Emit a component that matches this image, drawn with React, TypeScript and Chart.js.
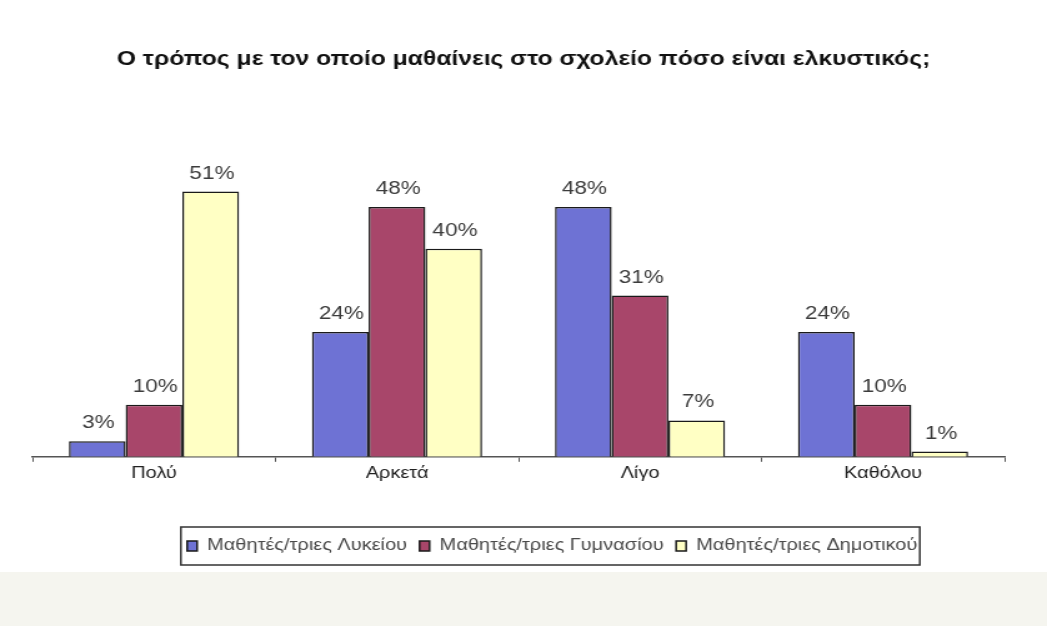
import React, { useEffect, useRef } from "react";
import { Chart, registerables } from "chart.js";

Chart.register(...registerables);

const categories = ["Πολύ", "Αρκετά", "Λίγο", "Καθόλου"];
const seriesNames = ["Μαθητές/τριες Λυκείου", "Μαθητές/τριες Γυμνασίου", "Μαθητές/τριες Δημοτικού"];
const lykeio = [3, 24, 48, 24];
const gymnasio = [10, 48, 31, 10];
const dimotiko = [51, 40, 7, 1];
const colors = ["#6e72d4", "#a8466a", "#ffffc4"];
const titleText = "Ο τρόπος με τον οποίο μαθαίνεις στο σχολείο πόσο είναι ελκυστικός;";

const FONT = "Arial, 'Liberation Sans', sans-serif";
// The reference picture is stretched horizontally; the canvas is drawn narrower and widened by CSS.
const CANVAS_W = 838;
const CANVAS_H = 626;

const valueLabels = {
  id: "valueLabels",
  afterDatasetsDraw(chart: any) {
    const ctx = chart.ctx;
    ctx.save();
    ctx.font = "18px " + FONT;
    ctx.fillStyle = "#3c3c3c";
    ctx.textAlign = "center";
    ctx.textBaseline = "alphabetic";
    chart.data.datasets.forEach((ds: any, i: number) => {
      const meta = chart.getDatasetMeta(i);
      meta.data.forEach((bar: any, j: number) => {
        ctx.fillText(ds.data[j] + "%", bar.x + 1, bar.y - 13);
      });
    });
    ctx.restore();
  },
};

const legendBox = {
  id: "legendBox",
  afterDraw(chart: any) {
    const lg = chart.legend;
    if (!lg || !lg.legendHitBoxes || !lg.legendHitBoxes.length) return;
    let l = Infinity, r = -Infinity, t = Infinity, b = -Infinity;
    lg.legendHitBoxes.forEach((h: any) => {
      l = Math.min(l, h.left);
      r = Math.max(r, h.left + h.width);
      t = Math.min(t, h.top);
      b = Math.max(b, h.top + h.height);
    });
    const ctx = chart.ctx;
    ctx.save();
    ctx.strokeStyle = "#333";
    ctx.lineWidth = 1.5;
    ctx.strokeRect(l - 5, t - 11, r - l + 7, b - t + 22);
    ctx.restore();
  },
};

const shiftBlocks = {
  id: "shiftBlocks",
  afterLayout(chart: any) {
    const lg = chart.legend;
    if (lg) {
      lg.left += 27;
      lg.right += 27;
    }
    const tb = chart.titleBlock;
    if (tb) {
      tb.left += 4;
      tb.right += 4;
    }
  },
};

export default function App() {
  const ref = useRef<HTMLCanvasElement>(null);
  useEffect(() => {
    const chart = new Chart(ref.current!, {
      type: "bar",
      data: {
        labels: categories,
        datasets: [lykeio, gymnasio, dimotiko].map((d, i) => ({
          label: seriesNames[i],
          data: d,
          backgroundColor: colors[i],
          borderColor: "#1a1a1a",
          borderWidth: 1.5,
          categoryPercentage: 0.7,
          barPercentage: 1.0,
        })),
      },
      options: {
        animation: false,
        responsive: false,
        layout: { padding: { left: 26, right: 34, top: 0, bottom: 62 } },
        plugins: {
          title: {
            display: true,
            text: titleText,
            color: "#111",
            font: { family: FONT, size: 19.75, weight: "bold" },
            padding: { top: 48, bottom: 73 },
          },
          legend: {
            position: "bottom",
            labels: {
              boxWidth: 8,
              boxHeight: 10,
              color: "#4a4a4a",
              padding: 10,
              font: { family: FONT, size: 16 },
            },
          },
          tooltip: { enabled: false },
        },
        scales: {
          x: {
            grid: { display: true, drawOnChartArea: false, drawTicks: true, tickLength: 5, offset: true, color: "#555" },
            border: { display: true, color: "#555", width: 1.5 },
            ticks: { color: "#222", padding: 2, font: { family: FONT, size: 16 } },
            afterFit(scale: any) {
              scale.height += 43;
            },
          },
          y: {
            display: false,
            min: 0,
            max: 60,
          },
        },
      },
      plugins: [valueLabels, legendBox, shiftBlocks],
    });
    return () => chart.destroy();
  }, []);
  return (
    <div
      style={{
        position: "fixed",
        left: 0,
        top: 0,
        width: 1047,
        height: 626,
        background: "linear-gradient(#ffffff 0px, #ffffff 572px, #f5f5ef 572px)",
      }}
    >
      <canvas
        ref={ref}
        width={CANVAS_W}
        height={CANVAS_H}
        style={{ width: "1047px", height: "626px", display: "block" }}
      />
    </div>
  );
}
